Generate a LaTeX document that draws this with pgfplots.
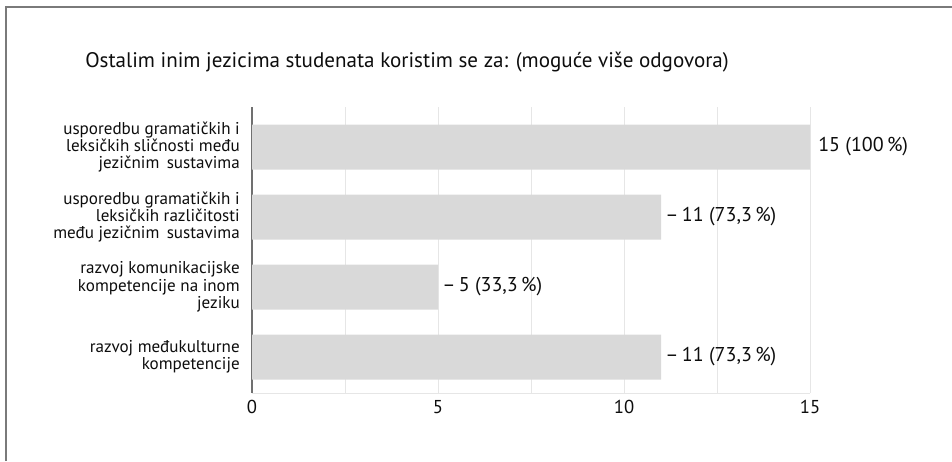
\documentclass[border=0pt]{standalone}
\usepackage{fontspec}
\setmainfont{PT Sans}
\usepackage{pgfplots}
\pgfplotsset{compat=1.18}
\definecolor{barfill}{HTML}{D9D9D9}
\definecolor{gridc}{HTML}{E6E6E6}
\definecolor{axisc}{HTML}{707070}
\definecolor{framec}{HTML}{7A7A7A}
\definecolor{txt}{HTML}{0D0D0D}
\begin{document}
\begin{tikzpicture}
\path[use as bounding box] (0,0) rectangle (714pt,345.75pt);
\draw[framec, line width=1pt] (4.5pt,0) -- (4.5pt,340.5pt) -- (714pt,340.5pt);
\node[anchor=base west, inner sep=0pt, font=\fontsize{15.8pt}{18pt}\selectfont, text=txt] at (63.75pt,294.75pt) {Ostalim inim jezicima studenata koristim se za: (moguće više odgovora)};
\begin{axis}[
  at={(189pt,51pt)}, anchor=south west,
  scale only axis, width=418.5pt, height=214.5pt,
  xbar, bar width=33.75pt,
  xmin=0, xmax=15, ymin=-0.514, ymax=3.572,
  xtick={0,5,10,15}, minor xtick={2.5,7.5,12.5},
  xmajorgrids, xminorgrids,
  major grid style={gridc, line width=0.75pt},
  minor grid style={gridc, line width=0.75pt},
  ytick={0,1,2,3},
  yticklabels={{razvoj međukulturne\\kompetencije},
               {razvoj komunikacijske\\kompetencije na inom\\jeziku},
               {usporedbu gramatičkih i\\leksičkih različitosti\\među jezičnim\ \,sustavima},
               {usporedbu gramatičkih i\\leksičkih sličnosti među\\jezičnim\ \,sustavima}},
  yticklabel style={align=right, font=\fontsize{12.8pt}{13.1pt}\selectfont, text=txt, inner xsep=0pt, xshift=-9pt},
  xticklabel style={font=\fontsize{14pt}{16pt}\selectfont, text=txt, yshift=-2pt},
  /pgf/number format/assume math mode=true,
  major tick length=0pt, minor tick length=0pt,
  axis x line*=bottom, axis y line*=left,
  x axis line style={gridc, line width=0.75pt, -},
  y axis line style={axisc, line width=1.2pt, -},
  point meta=explicit symbolic,
  nodes near coords,
  nodes near coords align={horizontal},
  every node near coord/.append style={font=\fontsize{15pt}{17pt}\selectfont, text=txt, inner xsep=3pt, anchor=west},
  clip=false,
]
\addplot[fill=barfill, draw=none] coordinates {
  (11,0) [–\,11 (73,3\,\%)]
  (5,1)  [–\,5 (33,3\,\%)]
  (11,2) [–\,11 (73,3\,\%)]
  (15,3) [\hspace{3pt}15 (100\,\%)]
};
\end{axis}
\end{tikzpicture}
\end{document}
